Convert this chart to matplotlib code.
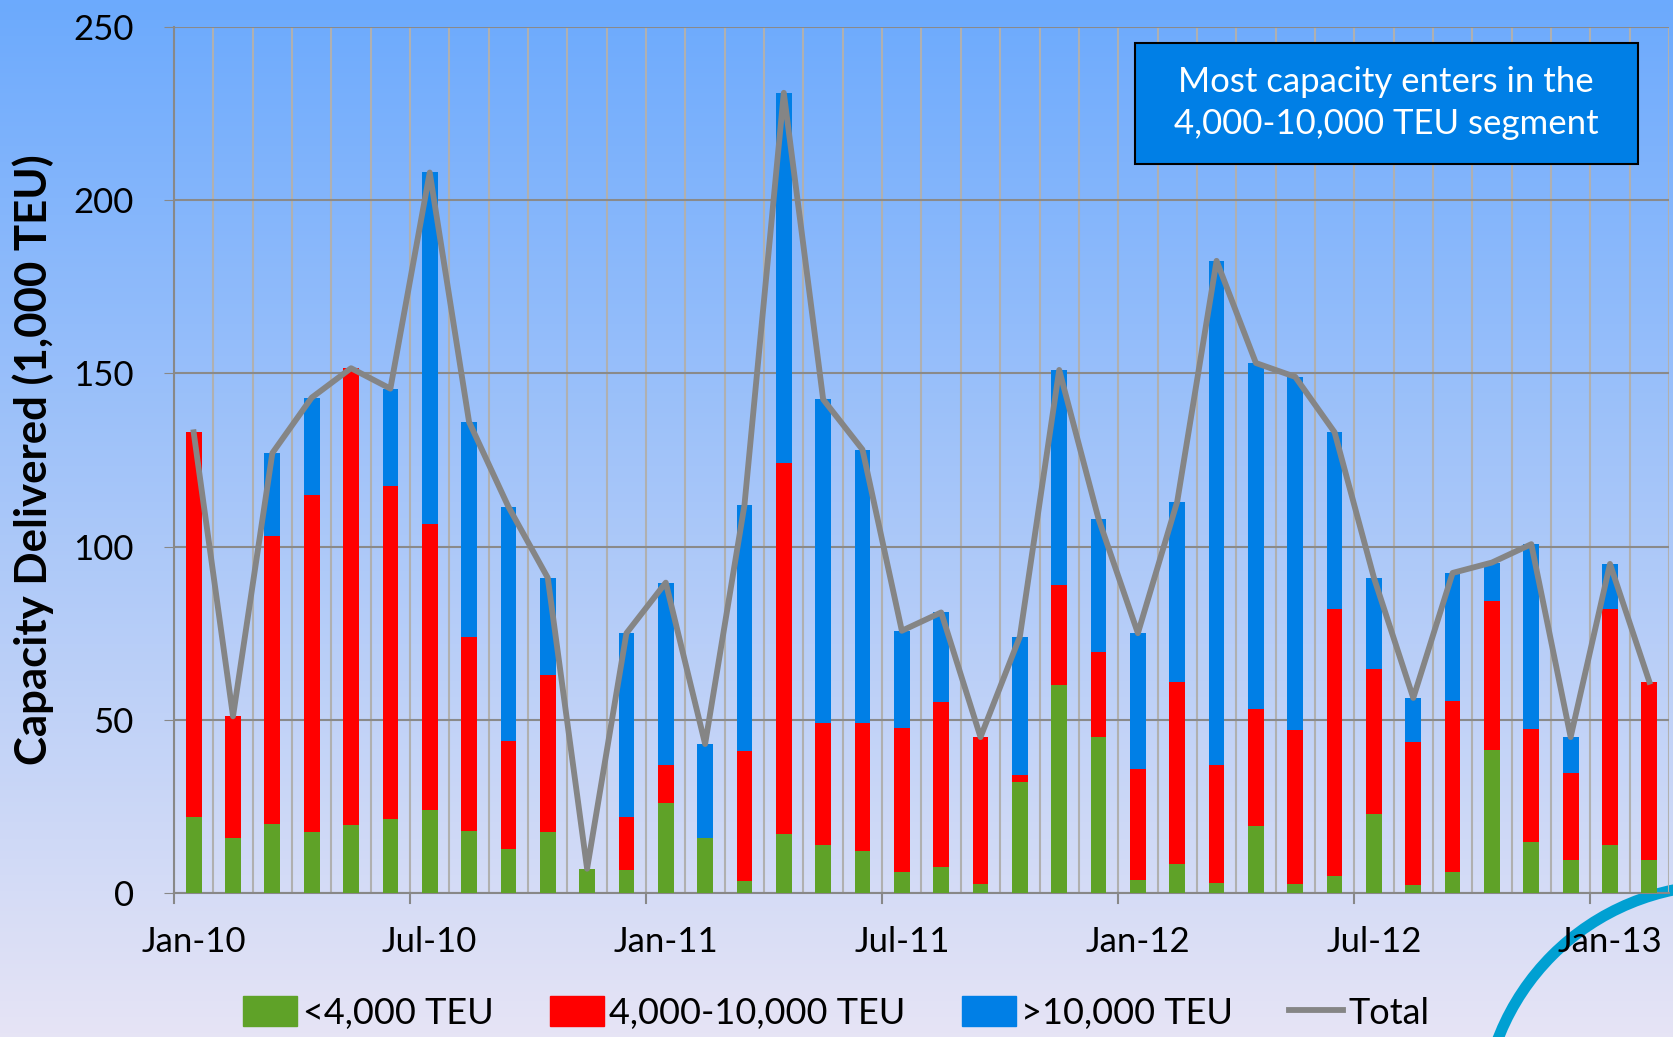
import numpy as np
import matplotlib
matplotlib.use("Agg")
import matplotlib.pyplot as plt
from matplotlib.patches import Rectangle, Ellipse
from matplotlib.lines import Line2D

plt.rcParams['font.family'] = ['Lato', 'DejaVu Sans']

months = ['Jan-10', 'Feb-10', 'Mar-10', 'Apr-10', 'May-10', 'Jun-10', 'Jul-10', 'Aug-10',
          'Sep-10', 'Oct-10', 'Nov-10', 'Dec-10', 'Jan-11', 'Feb-11', 'Mar-11', 'Apr-11',
          'May-11', 'Jun-11', 'Jul-11', 'Aug-11', 'Sep-11', 'Oct-11', 'Nov-11', 'Dec-11',
          'Jan-12', 'Feb-12', 'Mar-12', 'Apr-12', 'May-12', 'Jun-12', 'Jul-12', 'Aug-12',
          'Sep-12', 'Oct-12', 'Nov-12', 'Dec-12', 'Jan-13', 'Feb-13']

# <4,000 TEU
small = [22, 16, 20, 17.5, 19.7, 21.5, 24, 17.8, 12.6, 17.5, 7, 6.5,
         26, 16, 3.4, 17, 14, 12, 6.2, 7.4, 2.5, 32, 60, 45,
         3.7, 8.3, 2.8, 19.4, 2.5, 5, 22.8, 2.2, 6.2, 41.3, 14.8, 9.5,
         13.8, 9.5]
# 4,000-10,000 TEU
mid = [111, 35, 83, 97.5, 131.8, 96.1, 82.5, 56.2, 31.4, 45.5, 0, 15.5,
       11, 0, 37.6, 107, 35, 37, 41.3, 47.6, 42.5, 2, 29, 24.6,
       32, 52.7, 34.2, 33.6, 44.5, 77, 41.9, 41.5, 49.2, 43.1, 32.6, 25,
       68.2, 51.5]
# >10,000 TEU
large = [0, 0, 24, 28, 0, 28, 101.5, 62, 67.5, 28, 0, 53,
         52.6, 27, 71, 107, 93.5, 79, 28.2, 26, 0, 40, 62, 38.4,
         39.3, 52, 145.5, 100, 102, 51, 26.3, 12.6, 37, 11, 53.3, 10.5,
         13, 0]

small = np.array(small)
mid = np.array(mid)
large = np.array(large)
total = small + mid + large

c_green = '#5fa228'
c_red = '#ff0000'
c_blue = '#007fe6'
c_line = '#858585'

W, H = 1673, 1037
fig = plt.figure(figsize=(W / 100, H / 100), dpi=100)

# background gradient
bg = fig.add_axes([0, 0, 1, 1], zorder=-10)
top = np.array([108, 170, 253]) / 255
bot = np.array([230, 228, 245]) / 255
t = np.linspace(0, 1, 256)[:, None]
grad = top[None, :] * (1 - t) + bot[None, :] * t
bg.imshow(grad[:, None, :], aspect='auto', extent=[0, 1, 0, 1])
bg.axis('off')

# logo ring (bottom right)
r = 240
fig.patches.append(Ellipse((1722 / W, 1 - 1125 / H), 2 * r / W, 2 * r / H,
                           transform=fig.transFigure, fill=False,
                           edgecolor='#00a0d2', linewidth=8, zorder=-5))

ax = fig.add_axes([174 / W, 1 - 893 / H, (1669 - 174) / W, (893 - 27) / H])
ax.set_facecolor('none')

x = np.arange(len(months))
bw = 0.4
ax.bar(x, small, bw, color=c_green, label='<4,000 TEU', zorder=3)
ax.bar(x, mid, bw, bottom=small, color=c_red, label='4,000-10,000 TEU', zorder=3)
ax.bar(x, large, bw, bottom=small + mid, color=c_blue, label='>10,000 TEU', zorder=3)
ax.plot(x, total, color=c_line, lw=4.2, label='Total', zorder=4, solid_joinstyle='round')

ax.set_xlim(-0.5, len(months) - 0.5)
ax.set_ylim(0, 250)
ax.set_yticks(np.arange(0, 251, 50))

ax.set_xticks(x[::6])
ax.set_xticklabels(months[::6])
ax.set_xticks(np.arange(-0.5, len(months), 1), minor=True)
ax.tick_params(axis='x', which='both', length=0, pad=24, labelsize=25)
ax.tick_params(axis='y', length=7, color='#888888', pad=22, labelsize=25)

ax.grid(axis='y', which='major', color='#8a8a8a', lw=1.5, zorder=0)
ax.grid(axis='x', which='minor', color='#b0b0b0', lw=1.5, zorder=0)
ax.grid(axis='x', which='major', visible=False)

for b in np.arange(-0.5, len(months), 6):
    ax.plot([b, b], [0, -0.012], color='#888888', lw=1.5,
            transform=ax.get_xaxis_transform(), clip_on=False)

for s in ['top', 'right']:
    ax.spines[s].set_visible(False)
for s in ['left', 'bottom']:
    ax.spines[s].set_color('#888888')
    ax.spines[s].set_linewidth(1.5)

ax.set_ylabel('Capacity Delivered (1,000 TEU)', fontsize=31.5, fontweight='bold', labelpad=14)

handles = [Rectangle((0, 0), 1, 1, color=c_green), Rectangle((0, 0), 1, 1, color=c_red),
           Rectangle((0, 0), 1, 1, color=c_blue), Line2D([], [], color=c_line, lw=4.2)]
fig.legend(handles, ['<4,000 TEU', '4,000-10,000 TEU', '>10,000 TEU', 'Total'],
           loc='center', bbox_to_anchor=(0.5, 1 - 1013 / H), ncol=4, frameon=False,
           fontsize=26, handlelength=1.5, handleheight=0.9, handletextpad=0.15,
           columnspacing=1.55)

# annotation box
fig.patches.append(Rectangle((1135 / W, 1 - 164 / H), 503 / W, 121 / H,
                             transform=fig.transFigure, facecolor=c_blue,
                             edgecolor='black', linewidth=1.5, zorder=5))
fig.text(1386 / W, 1 - 103 / H, 'Most capacity enters in the\n4,000-10,000 TEU segment',
         ha='center', va='center', color='white', fontsize=25, linespacing=1.4, zorder=6)

fig.savefig('out.png', dpi=100)
